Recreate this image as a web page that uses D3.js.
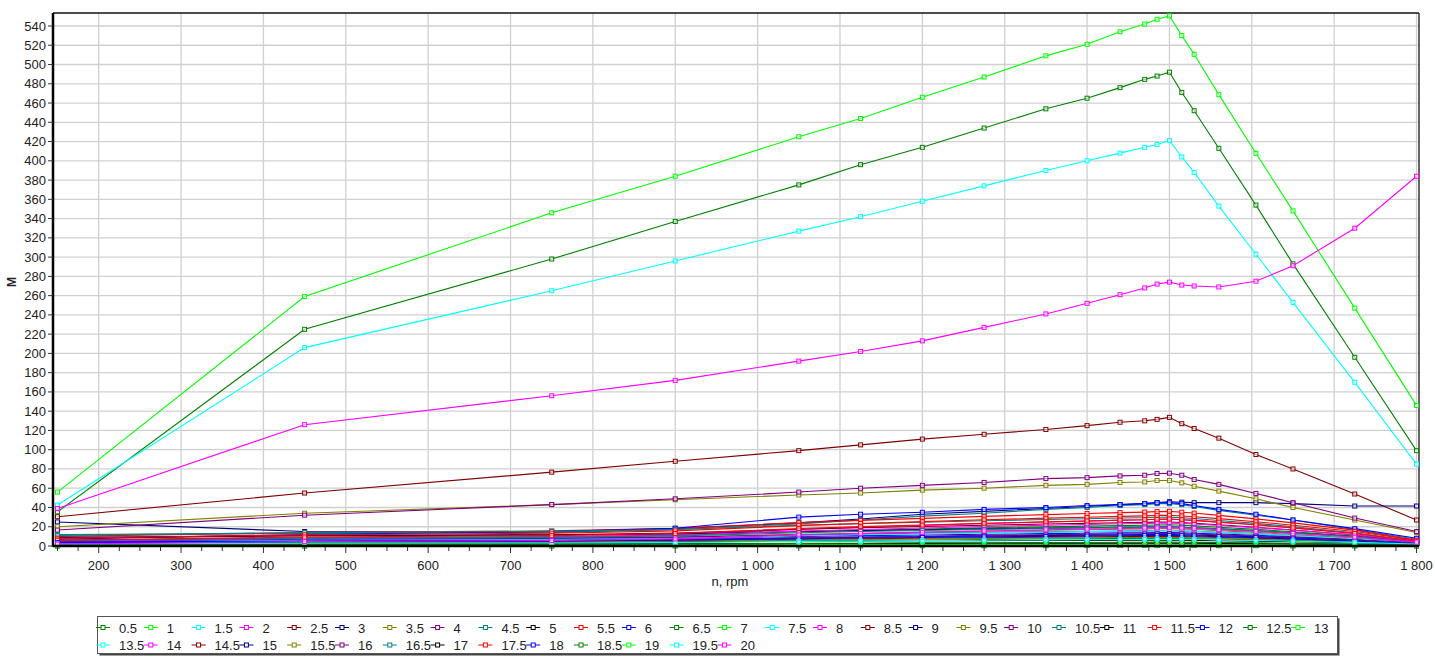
<!DOCTYPE html>
<html>
<head>
<meta charset="utf-8">
<script src="https://cdn.jsdelivr.net/npm/d3@7"></script>
<style>
  body { margin: 0; background: #fff; }
  text { font-family: "Liberation Sans", Arial, sans-serif; fill: #222; }
</style>
</head>
<body>
<div id="chart"></div>
<script>
// rpm points shared by every curve
var rpm = [150, 450, 750, 900, 1050, 1125, 1200, 1275, 1350, 1400, 1440, 1470, 1485, 1500, 1515, 1530, 1560, 1605, 1650, 1725, 1800];

// series names (legend)
var names = ["0.5","1","1.5","2","2.5","3","3.5","4","4.5","5","5.5","6","6.5","7","7.5","8","8.5","9","9.5","10",
             "10.5","11","11.5","12","12.5","13","13.5","14","14.5","15","15.5","16","16.5","17","17.5","18","18.5","19","19.5","20"];

// colour cycle used by the series
var palette = ["#008000","#00ff00","#00ffff","#ff00ff","#800000","#000080","#808000","#800080","#008080","#000000","#ff0000","#0000ff"];

// M values, one row per series, same order as names
var torque = [
  [35.5,225,298,337,375,396,414,434,454,465,476,484.6,488,492,471,452,413,354,293,196,99],
  [56,259,346,384,425,444,466,487,509,521,534,542,547,550.5,530,510.6,468.7,407.8,348,247,146],
  [42.5,206,265,296,327,342,358,374,390,400,408,414,417,421,404,388,353,303,253,170,85],
  [39,126,156,172,192,202,213,227,241,252,261,268,272,274,271,270,269,275,291,330,384],
  [30.4,55,76.7,88,99,105,111,116,121,125,128.5,130,131.5,133.6,127,122,112,95,80,54,27],
  [25,15,14,18,24,28,33,36,39,41,43,44,45,46,45.5,45,45,45,44,41.5,41.5],
  [20,34,43,48,53,55,58,60,63,64,66,66.5,68,68,65.6,62,57,49,40,27,14],
  [16.6,32,43,49,56,60,63,66,70,71,72.8,73.5,75.3,75.6,73.5,69,64,54.6,45,29,15],
  [12,13,14,17,23,27,31,34,38,40,42,43,44,44,43,41,37,32,27,17,7],
  [4,4.3,4.4,4.6,5.1,5.3,5.4,5.6,5.7,5.8,5.9,5.9,6,6,5.9,5.8,5.4,5,4.4,3.4,2],
  [10,13.9,15.7,18.3,24.3,26.6,28.7,30.8,32.6,33.7,34.7,35.2,35.7,36,35.1,34.2,31.8,28.2,24,16.5,6],
  [7,12,15,18.5,30,33,35,38,40,42,43,44,45,45,44,42,38,33,27,18,8],
  [6,8.4,9.5,11.1,14.8,16.2,17.5,18.8,19.9,20.6,21.2,21.5,21.8,22,21.5,20.9,19.5,17.3,14.8,10.3,4],
  [1,1.2,1.2,1.3,1.6,1.6,1.7,1.8,1.9,1.9,2,2,2,2,2,1.9,1.9,1.7,1.6,1.4,1],
  [3,4.4,5,5.9,8,8.8,9.5,10.2,10.8,11.2,11.6,11.7,11.9,12,11.7,11.5,10.7,9.7,8.4,6.2,3],
  [4,7.6,9.3,11.7,17.2,19.4,21.3,23.2,24.9,25.8,26.8,27.3,27.8,28,27.3,26.6,24.8,22,18.8,13,5],
  [8,10.6,11.7,13.4,17.4,18.9,20.2,21.6,22.8,23.5,24.2,24.5,24.8,25,24.4,23.7,22.1,19.5,16.6,11.4,4],
  [9,10.7,11.4,12.5,15.1,16,16.9,17.8,18.6,19,19.5,19.7,19.9,20,19.5,19,17.8,15.8,13.6,9.6,4],
  [5,7,7.9,9.2,12.2,13.3,14.4,15.4,16.3,16.8,17.4,17.6,17.9,18,17.6,17.1,15.9,14.1,12,8.3,3],
  [6,7.5,8.2,9.2,11.5,12.4,13.2,14,14.7,15.1,15.5,15.7,15.9,16,15.6,15.2,14.2,12.6,10.8,7.6,3],
  [11,13.9,15.2,17.1,21.5,23.2,24.7,26.2,27.5,28.3,29.1,29.4,29.8,30,29.3,28.5,26.5,23.5,20,13.8,5],
  [2,2.2,2.2,2.3,2.6,2.6,2.7,2.8,2.9,2.9,3,3,3,3,2.9,2.9,2.7,2.5,2.2,1.7,1],
  [8,11.6,13.3,15.7,21.2,23.4,25.3,27.2,28.9,29.8,30.8,31.3,31.8,32,31.2,30.4,28.4,25.2,21.6,15.1,6],
  [5,6.4,7,7.9,10,10.8,11.5,12.2,12.8,13.2,13.6,13.7,13.9,14,13.7,13.3,12.5,11.1,9.6,6.9,3],
  [2,2.9,3.3,3.9,5.3,5.8,6.3,6.8,7.2,7.5,7.7,7.8,7.9,8,7.8,7.6,7.2,6.4,5.6,4.1,2],
  [0.5,0.6,0.6,0.7,0.8,0.8,0.9,0.9,0.9,1,1,1,1,1,1,1,0.9,0.9,0.8,0.7,0.5],
  [4,5.8,6.6,7.8,10.6,11.7,12.6,13.6,14.4,14.9,15.4,15.6,15.9,16,15.6,15.2,14.2,12.6,10.8,7.6,3],
  [5,7.9,9.2,11.1,15.5,17.2,18.7,20.2,21.5,22.3,23.1,23.4,23.8,24,23.4,22.9,21.3,19.1,16.4,11.7,5],
  [3,4.1,4.5,5.2,6.9,7.5,8,8.6,9.1,9.4,9.7,9.8,9.9,10,9.8,9.5,8.9,7.9,6.8,4.8,2],
  [4,5.2,5.8,6.6,8.4,9.1,9.8,10.4,11,11.3,11.6,11.8,11.9,12,11.7,11.5,10.7,9.7,8.4,6.2,3],
  [3,3.9,4.3,4.9,6.3,6.8,7.3,7.8,8.2,8.5,8.7,8.8,8.9,9,8.8,8.6,8,7.2,6.2,4.5,2],
  [3,4.5,5.2,6.2,8.5,9.4,10.2,11,11.7,12.1,12.5,12.7,12.9,13,12.7,12.4,11.6,10.4,9,6.5,3],
  [6,8.1,9.1,10.5,13.7,15,16.1,17.2,18.2,18.7,19.3,19.6,19.9,20,19.5,19,17.8,15.8,13.6,9.6,4],
  [0,0.1,0.1,0.2,0.3,0.3,0.4,0.4,0.4,0.5,0.5,0.5,0.5,0.5,0.5,0.5,0.4,0.4,0.3,0.2,0],
  [6,9.3,10.8,13,18.1,20.1,21.8,23.6,25.1,26,26.9,27.3,27.8,28,27.3,26.6,24.8,22,18.8,13,5],
  [3.5,4.6,5.2,5.9,7.6,8.3,8.9,9.5,10,10.3,10.6,10.8,10.9,11,10.7,10.5,9.7,8.7,7.4,5.2,2],
  [1,1.5,1.7,2,2.7,2.9,3.2,3.4,3.6,3.7,3.9,3.9,4,4,3.9,3.8,3.6,3.2,2.8,2.1,1],
  [0,0.1,0.1,0.2,0.3,0.3,0.4,0.4,0.4,0.5,0.5,0.5,0.5,0.5,0.5,0.5,0.4,0.4,0.3,0.2,0],
  [2,2.8,3.1,3.6,4.8,5.2,5.6,6,6.4,6.6,6.8,6.9,7,7,6.9,6.7,6.3,5.7,5,3.8,2],
  [2,4.6,5.7,7.4,11.4,12.9,14.2,15.6,16.8,17.5,18.2,18.5,18.8,19,18.6,18.1,16.9,15.1,13,9.3,4]
];

var xTicks = d3.range(200, 1801, 100);
var yTicks = d3.range(0, 541, 20);

var width = 1435, height = 662;
var plot = {left: 53, right: 1419, top: 13, bottom: 546};

var svg = d3.select("#chart")
    .append("svg")
    .attr("width", width)
    .attr("height", height);

var x = d3.scaleLinear()
    .domain([144.5, 1803])
    .range([plot.left, plot.right]);

var y = d3.scaleLinear()
    .domain([0, 553.5])
    .range([plot.bottom, plot.top]);

var loc = d3.formatLocale({decimal: ".", thousands: "\u00a0", grouping: [3], currency: ["", ""]});
var fmt = loc.format(",d");

// grid
svg.append("g").selectAll("line")
    .data(yTicks.filter(function(d) { return d > 0; }))
    .enter().append("line")
    .attr("x1", plot.left).attr("x2", plot.right)
    .attr("y1", function(d) { return y(d); })
    .attr("y2", function(d) { return y(d); })
    .attr("stroke", "#d0d0d0")
    .attr("stroke-width", 1.3);

svg.append("g").selectAll("line")
    .data(xTicks)
    .enter().append("line")
    .attr("y1", plot.top).attr("y2", plot.bottom)
    .attr("x1", function(d) { return x(d); })
    .attr("x2", function(d) { return x(d); })
    .attr("stroke", "#d0d0d0")
    .attr("stroke-width", 1.3);

// frame top / right
svg.append("line")
    .attr("x1", plot.left).attr("x2", plot.right)
    .attr("y1", plot.top).attr("y2", plot.top)
    .attr("stroke", "#111").attr("stroke-width", 1.5);
svg.append("line")
    .attr("x1", plot.right).attr("x2", plot.right)
    .attr("y1", plot.top).attr("y2", plot.bottom)
    .attr("stroke", "#333").attr("stroke-width", 1.5);

// series lines + markers
var line = d3.line()
    .x(function(d, i) { return x(rpm[i]); })
    .y(function(d) { return y(d); });

var series = svg.append("g").selectAll("g")
    .data(torque)
    .enter().append("g")
    .attr("stroke", function(d, i) { return palette[i % palette.length]; });

series.append("path")
    .attr("d", function(d) { return line(d); })
    .attr("fill", "none")
    .attr("stroke-width", 1.1);

series.selectAll("rect")
    .data(function(d) { return d; })
    .enter().append("rect")
    .attr("x", function(d, i) { return x(rpm[i]) - 2; })
    .attr("y", function(d) { return y(d) - 2; })
    .attr("width", 4)
    .attr("height", 4)
    .attr("fill", "#fff")
    .attr("fill-opacity", 0.6)
    .attr("stroke-width", 1);

// x axis
var xAxis = svg.append("g")
    .attr("transform", "translate(0," + plot.bottom + ")");
xAxis.append("line")
    .attr("x1", plot.left).attr("x2", plot.right)
    .attr("stroke", "#000").attr("stroke-width", 2.5);
xAxis.selectAll(".minor")
    .data(d3.range(150, 1801, 25))
    .enter().append("line")
    .attr("x1", function(d) { return x(d); })
    .attr("x2", function(d) { return x(d); })
    .attr("y1", 1).attr("y2", function(d) { return d % 100 === 0 ? 7 : 5; })
    .attr("stroke", "#333");
xAxis.selectAll("text")
    .data(xTicks)
    .enter().append("text")
    .attr("x", function(d) { return x(d); })
    .attr("y", 24)
    .attr("text-anchor", "middle")
    .style("font-size", "13px")
    .text(function(d) { return fmt(d); });

// y axis
var yAxis = svg.append("g");
yAxis.append("line")
    .attr("x1", plot.left).attr("x2", plot.left)
    .attr("y1", plot.top).attr("y2", plot.bottom + 1)
    .attr("stroke", "#000").attr("stroke-width", 2.5);
yAxis.selectAll(".tick")
    .data(yTicks)
    .enter().append("line")
    .attr("x1", plot.left - 5).attr("x2", plot.left)
    .attr("y1", function(d) { return y(d); })
    .attr("y2", function(d) { return y(d); })
    .attr("stroke", "#333");
yAxis.selectAll("text")
    .data(yTicks)
    .enter().append("text")
    .attr("x", plot.left - 7)
    .attr("y", function(d) { return y(d) + 4.5; })
    .attr("text-anchor", "end")
    .style("font-size", "13px")
    .text(function(d) { return d; });

// axis titles
svg.append("text")
    .attr("transform", "translate(16,282) rotate(-90)")
    .attr("text-anchor", "middle")
    .style("font-size", "12px")
    .style("font-weight", "bold")
    .text("M");

svg.append("text")
    .attr("x", 730)
    .attr("y", 586)
    .attr("text-anchor", "middle")
    .style("font-size", "13px")
    .text("n, rpm");

// legend
var perRow = 26, colW = 47.8, legX = 103, rowY = [627.5, 645];
var legW = 1240, legH = 37;
svg.append("rect")
    .attr("x", 99.5).attr("y", 618.5)
    .attr("width", legW).attr("height", legH)
    .attr("fill", "#444");
svg.append("rect")
    .attr("x", 97.5).attr("y", 616.5)
    .attr("width", legW).attr("height", legH)
    .attr("fill", "#fff")
    .attr("stroke", "#555");

var item = svg.append("g").selectAll("g")
    .data(names)
    .enter().append("g")
    .attr("transform", function(d, i) {
        return "translate(" + (legX + (i % perRow) * colW) + "," + rowY[Math.floor(i / perRow)] + ")";
    });
item.append("line")
    .attr("x1", -7).attr("x2", 7)
    .attr("stroke", function(d, i) { return palette[i % palette.length]; });
item.append("rect")
    .attr("x", -2).attr("y", -2).attr("width", 4).attr("height", 4)
    .attr("fill", "#fff")
    .attr("stroke", function(d, i) { return palette[i % palette.length]; });
item.append("text")
    .attr("x", 16)
    .attr("y", 5)
    .style("font-size", "13px")
    .text(function(d) { return d; });
</script>
</body>
</html>
